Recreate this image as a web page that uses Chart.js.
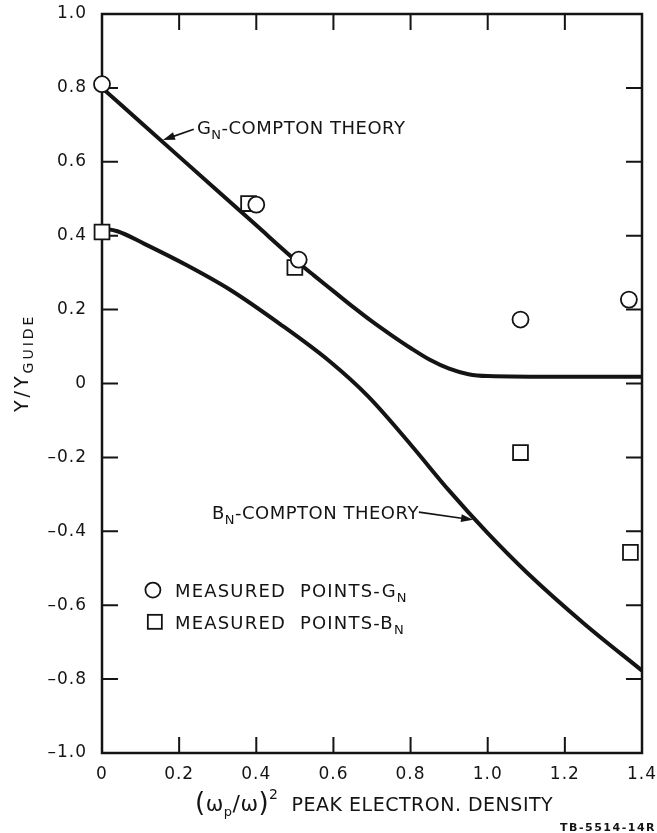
<!DOCTYPE html>
<html>
<head>
<meta charset="utf-8">
<title>Y/Y guide vs peak electron density</title>
<script src="https://cdn.jsdelivr.net/npm/chart.js@4.4.1/dist/chart.umd.min.js"></script>
<style>
  html, body { margin: 0; padding: 0; background: #fff; }
  canvas { display: block; }
</style>
</head>
<body>
<canvas id="plot" width="657" height="833"></canvas>
<script>
//compton theory curves

const gnTheoryX = [0, 0.1, 0.2, 0.3, 0.4, 0.5, 0.55, 0.6, 0.65, 0.7, 0.75, 0.8, 0.85, 0.9, 0.95, 1.0, 1.2, 1.4];
const gnTheoryY = [0.80, 0.707, 0.614, 0.521, 0.428, 0.335, 0.292, 0.250, 0.208, 0.168, 0.131, 0.096, 0.064, 0.040, 0.025, 0.020, 0.018, 0.018];

const bnTheoryX = [0, 0.04, 0.11, 0.22, 0.33, 0.46, 0.59, 0.69, 0.8, 0.9, 1.0, 1.1, 1.25, 1.4];
const bnTheoryY = [0.42, 0.412, 0.378, 0.32, 0.255, 0.162, 0.06, -0.035, -0.165, -0.29, -0.405, -0.51, -0.65, -0.777];

//measured points

const gnMeasuredX = [0, 0.40, 0.51, 1.085, 1.366];
const gnMeasuredY = [0.81, 0.484, 0.335, 0.173, 0.227];

const bnMeasuredX = [0, 0.38, 0.50, 1.085, 1.37];
const bnMeasuredY = [0.41, 0.487, 0.314, -0.187, -0.457];

//axis ticks

const xTicks = [0, 0.2, 0.4, 0.6, 0.8, 1.0, 1.2, 1.4];
const yTicks = [-1.0, -0.8, -0.6, -0.4, -0.2, 0, 0.2, 0.4, 0.6, 0.8, 1.0];

const INK = '#141414';
const FONT = 'DejaVu Sans';

function zip(xs, ys) {
	return xs.map((x, i) => ({ x: x, y: ys[i] }));
}

function tickText(v) {
	if (Math.abs(v) < 1e-9) return '0';
	return v.toFixed(1).replace('-', '\u2013');
}

//draw a run of text pieces (sub / superscripts), returns end x
function rich(ctx, parts, x, y) {
	parts.forEach(p => {
		ctx.font = (p.bold ? 'bold ' : '') + p.size + 'px "' + FONT + '"';
		ctx.fillText(p.t, x, y + (p.dy || 0));
		x += ctx.measureText(p.t).width;
	});
	return x;
}

function arrow(ctx, x1, y1, x2, y2) {
	const a = Math.atan2(y2 - y1, x2 - x1);
	const c = Math.cos(a), s = Math.sin(a);
	ctx.lineWidth = 1.6;
	ctx.beginPath();
	ctx.moveTo(x1, y1);
	ctx.lineTo(x2 - 8 * c, y2 - 8 * s);
	ctx.stroke();
	ctx.beginPath();
	ctx.moveTo(x2, y2);
	ctx.lineTo(x2 - 12 * c + 4 * s, y2 - 12 * s - 4 * c);
	ctx.lineTo(x2 - 12 * c - 4 * s, y2 - 12 * s + 4 * c);
	ctx.closePath();
	ctx.fill();
}

//frame with inward ticks on all four sides
const framePlugin = {
	id: 'frame',
	beforeDraw(chart) {
		chart.ctx.letterSpacing = '1px';
	},
	beforeDatasetsDraw(chart) {
		const ctx = chart.ctx;
		const a = chart.chartArea;
		const sx = chart.scales.x, sy = chart.scales.y;
		ctx.save();
		ctx.strokeStyle = INK;
		ctx.lineWidth = 2.5;
		ctx.strokeRect(a.left, a.top, a.right - a.left, a.bottom - a.top);
		ctx.lineWidth = 2;
		ctx.beginPath();
		xTicks.forEach(v => {
			const px = sx.getPixelForValue(v);
			ctx.moveTo(px, a.bottom); ctx.lineTo(px, a.bottom - 16);
			ctx.moveTo(px, a.top); ctx.lineTo(px, a.top + 16);
		});
		yTicks.forEach(v => {
			const py = sy.getPixelForValue(v);
			ctx.moveTo(a.left, py); ctx.lineTo(a.left + 16, py);
			ctx.moveTo(a.right, py); ctx.lineTo(a.right - 16, py);
		});
		ctx.stroke();
		ctx.restore();
	},
	afterDraw(chart) {
		const ctx = chart.ctx;
		const sx = chart.scales.x, sy = chart.scales.y;
		const X = v => sx.getPixelForValue(v);
		const Y = v => sy.getPixelForValue(v);
		ctx.save();
		ctx.fillStyle = INK;
		ctx.strokeStyle = INK;
		ctx.textBaseline = 'alphabetic';
		ctx.letterSpacing = '0.5px';

		//curve labels
		rich(ctx, [{ t: 'G', size: 18 }, { t: 'N', size: 13, dy: 5 }, { t: '-COMPTON THEORY', size: 18 }], X(0.246), Y(0.694) + 7);
		arrow(ctx, X(0.238), Y(0.688), X(0.158), Y(0.659));

		const end = rich(ctx, [{ t: 'B', size: 18 }, { t: 'N', size: 13, dy: 5 }, { t: '-COMPTON THEORY', size: 18 }], X(0.285), Y(-0.348) + 7);
		arrow(ctx, end, Y(-0.348), X(0.962), Y(-0.369));

		//legend
		ctx.lineWidth = 1.8;
		ctx.beginPath();
		ctx.arc(X(0.132), Y(-0.559), 7.5, 0, Math.PI * 2);
		ctx.stroke();
		ctx.strokeRect(X(0.137) - 7, Y(-0.645) - 7, 14, 14);
		ctx.letterSpacing = '1.2px';
		rich(ctx, [{ t: 'MEASURED  POINTS-G', size: 18 }, { t: 'N', size: 13, dy: 5 }], X(0.189), Y(-0.559) + 7);
		rich(ctx, [{ t: 'MEASURED  POINTS-B', size: 18 }, { t: 'N', size: 13, dy: 5 }], X(0.189), Y(-0.645) + 7);

		//x axis title
		ctx.letterSpacing = '0.5px';
		rich(ctx, [
			{ t: '(', size: 26 },
			{ t: '\u03c9', size: 21 },
			{ t: 'p', size: 13, dy: 5 },
			{ t: '/', size: 22 },
			{ t: '\u03c9', size: 21 },
			{ t: ')', size: 26 },
			{ t: '2', size: 14, dy: -12 },
			{ t: '  PEAK ELECTRON. DENSITY', size: 19 }
		], 195, 811);

		//y axis title
		ctx.save();
		ctx.translate(28, 412);
		ctx.rotate(-Math.PI / 2);
		ctx.letterSpacing = '3px';
		rich(ctx, [{ t: 'Y/Y', size: 19 }, { t: 'GUIDE', size: 14, dy: 5 }], 0, 0);
		ctx.restore();

		//figure code
		ctx.letterSpacing = '1.5px';
		ctx.textAlign = 'right';
		ctx.font = 'bold 11px "' + FONT + '"';
		ctx.fillText('TB-5514-14R', 656, 831);
		ctx.restore();
	}
};

const config = {
	type: 'scatter',
	data: {
		datasets: [
			{
				label: 'Measured points G_N',
				data: zip(gnMeasuredX, gnMeasuredY),
				pointStyle: 'circle',
				pointRadius: 8,
				backgroundColor: '#fff',
				borderColor: INK,
				borderWidth: 1.8,
				clip: false,
				order: 0
			},
			{
				label: 'Measured points B_N',
				data: zip(bnMeasuredX, bnMeasuredY),
				pointStyle: 'rect',
				pointRadius: 10.5,
				backgroundColor: '#fff',
				borderColor: INK,
				borderWidth: 1.8,
				clip: false,
				order: 1
			},
			{
				label: 'G_N Compton theory',
				data: zip(gnTheoryX, gnTheoryY),
				showLine: true,
				borderColor: INK,
				borderWidth: 4,
				pointRadius: 0,
				cubicInterpolationMode: 'monotone',
				order: 2
			},
			{
				label: 'B_N Compton theory',
				data: zip(bnTheoryX, bnTheoryY),
				showLine: true,
				borderColor: INK,
				borderWidth: 4,
				pointRadius: 0,
				cubicInterpolationMode: 'monotone',
				order: 3
			}
		]
	},
	options: {
		responsive: false,
		animation: false,
		events: [],
		layout: { padding: { top: 14, right: 15, left: 0, bottom: 0 } },
		plugins: {
			legend: { display: false },
			tooltip: { enabled: false }
		},
		scales: {
			x: {
				type: 'linear',
				min: 0,
				max: 1.4,
				grid: { display: false, drawTicks: false },
				border: { display: false },
				ticks: {
					stepSize: 0.2,
					autoSkip: false,
					maxRotation: 0,
					padding: 11,
					color: INK,
					font: { family: FONT, size: 17 },
					callback: tickText
				},
				afterFit: s => {
					s.height = 80;
					s.paddingLeft = 0;
					s.paddingRight = 0;
				}
			},
			y: {
				type: 'linear',
				min: -1,
				max: 1,
				grid: { display: false, drawTicks: false },
				border: { display: false },
				ticks: {
					stepSize: 0.2,
					autoSkip: false,
					padding: 15,
					color: INK,
					font: { family: FONT, size: 17 },
					callback: tickText
				},
				afterFit: s => {
					s.width = 102;
					s.paddingTop = 0;
					s.paddingBottom = 0;
				}
			}
		}
	},
	plugins: [framePlugin]
};

const chart = new Chart(document.getElementById('plot').getContext('2d'), config);
</script>
</body>
</html>
